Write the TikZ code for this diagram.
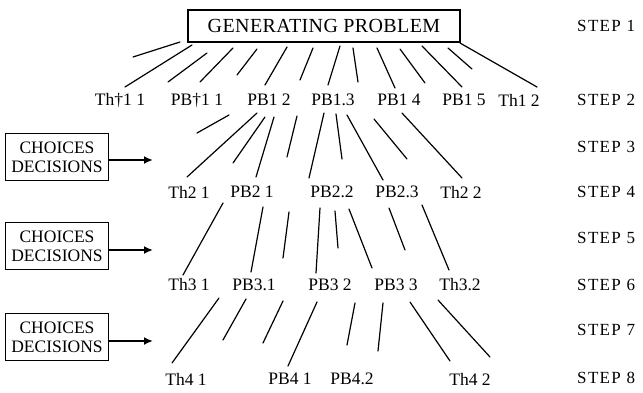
\documentclass[tikz,border=0pt]{standalone}
\usepackage{fontspec}
\setmainfont{Liberation Serif}
\usetikzlibrary{arrows.meta}
\begin{document}
\begin{tikzpicture}[x=1pt,y=-1pt,
  ln/.style={line width=1.2pt, line cap=round},
  lab/.style={font=\fontsize{17.5}{17.5}\selectfont, inner sep=0pt, anchor=center},
  steplab/.style={font=\fontsize{17}{17}\selectfont\addfontfeatures{LetterSpace=8}, inner sep=0pt, anchor=west},
  titlebox/.style={draw, line width=1.6pt, minimum width=272pt, minimum height=32pt, font=\fontsize{20}{20}\selectfont\addfontfeatures{LetterSpace=2}, inner sep=0pt},
  choicebox/.style={draw, line width=1.4pt, minimum width=103pt, minimum height=47pt, align=center, font=\fontsize{17.5}{19}\selectfont, inner sep=0pt},
  choicearrow/.style={line width=2.2pt, -{Latex[length=9pt,width=8pt]}}
]
\useasboundingbox (0,0) rectangle (643,392);

% title
\node[titlebox] (gen) at (324,26) {GENERATING PROBLEM};

% step labels
\node[steplab] (s1) at (577,26) {STEP 1};
\node[steplab] (s2) at (577,100) {STEP 2};
\node[steplab] (s3) at (577,147) {STEP 3};
\node[steplab] (s4) at (577,192) {STEP 4};
\node[steplab] (s5) at (577,238) {STEP 5};
\node[steplab] (s6) at (577,285) {STEP 6};
\node[steplab] (s7) at (577,330) {STEP 7};
\node[steplab] (s8) at (577,378) {STEP 8};

% row 2
\node[lab] (th11) at (120,100) {Th†1 1};
\node[lab] (pb11) at (197,100) {PB†1 1};
\node[lab] (pb12) at (269,100) {PB1 2};
\node[lab] (pb13) at (333,100) {PB1.3};
\node[lab] (pb14) at (399,100) {PB1 4};
\node[lab] (pb15) at (464,100) {PB1 5};
\node[lab] (th12) at (519,100) {Th1 2};

% row 4
\node[lab] (th21) at (189,192) {Th2 1};
\node[lab] (pb21) at (252,192) {PB2 1};
\node[lab] (pb22) at (332,192) {PB2.2};
\node[lab] (pb23) at (397,192) {PB2.3};
\node[lab] (th22) at (461,192) {Th2 2};

% row 6
\node[lab] (th31) at (189,285) {Th3 1};
\node[lab] (pb31) at (254,285) {PB3.1};
\node[lab] (pb32) at (330,285) {PB3 2};
\node[lab] (pb33) at (396,285) {PB3 3};
\node[lab] (th32) at (460,285) {Th3.2};

% row 8
\node[lab] (th41) at (186,379) {Th4 1};
\node[lab] (pb41) at (290,379) {PB4 1};
\node[lab] (pb42) at (352,379) {PB4.2};
\node[lab] (th42) at (470,379) {Th4 2};

% choices boxes
\node[choicebox] (c1) at (57,157) {CHOICES\\DECISIONS};
\node[choicebox] (c2) at (57,246) {CHOICES\\DECISIONS};
\node[choicebox] (c3) at (57,337) {CHOICES\\DECISIONS};
\coordinate (a1) at (153,160);
\coordinate (a2) at (153,250);
\coordinate (a3) at (153,341);
\draw[choicearrow] (c1.east |- a1) -- (a1);
\draw[choicearrow] (c2.east |- a2) -- (a2);
\draw[choicearrow] (c3.east |- a3) -- (a3);

% step 1 -> 2 lines
\draw[ln] (180,42) -- (133,57);
\draw[ln] (192,45) -- (125,87);
\draw[ln] (207,53) -- (168,82);
\draw[ln] (233,48) -- (200,82);
\draw[ln] (257,49) -- (237,75);
\draw[ln] (287,47) -- (265,85);
\draw[ln] (313,48) -- (300,80);
\draw[ln] (340,46) -- (328,85);
\draw[ln] (353,48) -- (358,82);
\draw[ln] (377,48) -- (395,88);
\draw[ln] (400,49) -- (425,83);
\draw[ln] (422,46) -- (462,87);
\draw[ln] (448,48) -- (472,69);
\draw[ln] (460,43) -- (537,87);

% step 3 lines
\draw[ln] (229,115) -- (197,133);
\draw[ln] (257,113) -- (187,177);
\draw[ln] (265,117) -- (233,163);
\draw[ln] (274,117) -- (256,177);
\draw[ln] (297,116) -- (287,157);
\draw[ln] (324,113) -- (309,178);
\draw[ln] (336,114) -- (342,159);
\draw[ln] (347,115) -- (383,180);
\draw[ln] (374,119) -- (407,159);
\draw[ln] (402,113) -- (462,178);

% step 5 lines
\draw[ln] (223,203) -- (183,275);
\draw[ln] (263,207) -- (251,272);
\draw[ln] (289,212) -- (283,258);
\draw[ln] (320,208) -- (316,273);
\draw[ln] (335,211) -- (338,248);
\draw[ln] (349,209) -- (372,268);
\draw[ln] (389,208) -- (405,250);
\draw[ln] (422,205) -- (449,270);

% step 7 lines
\draw[ln] (219,298) -- (172,363);
\draw[ln] (246,299) -- (223,340);
\draw[ln] (283,301) -- (263,343);
\draw[ln] (317,302) -- (288,366);
\draw[ln] (355,303) -- (347,345);
\draw[ln] (383,303) -- (378,351);
\draw[ln] (410,302) -- (450,361);
\draw[ln] (438,300) -- (490,357);
\end{tikzpicture}
\end{document}
